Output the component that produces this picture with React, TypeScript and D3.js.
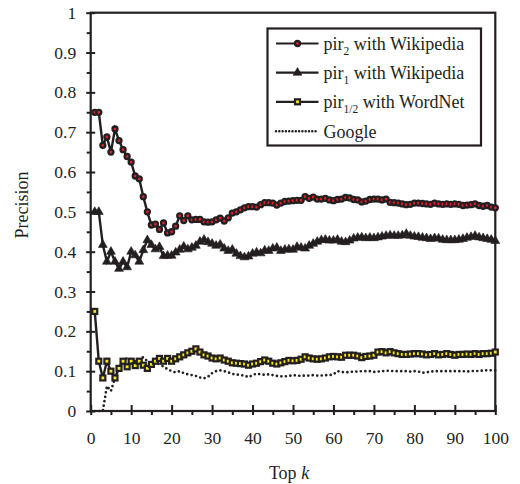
import React, { useEffect, useRef } from 'react';
import * as d3 from 'd3';

// top-k positions on the x axis
const topK = d3.range(1, 101);

const pir2Wiki = [
  0.75, 0.75, 0.667, 0.688, 0.65, 0.708, 0.679, 0.656, 0.639, 0.625,
  0.59, 0.583, 0.538, 0.5, 0.467, 0.469, 0.456, 0.472, 0.447, 0.45,
  0.464, 0.49, 0.478, 0.49, 0.48, 0.481, 0.481, 0.475, 0.474, 0.475,
  0.48, 0.484, 0.477, 0.485, 0.497, 0.5, 0.505, 0.51, 0.513, 0.513,
  0.512, 0.518, 0.523, 0.523, 0.522, 0.517, 0.522, 0.526, 0.527, 0.528,
  0.529, 0.529, 0.538, 0.534, 0.537, 0.532, 0.532, 0.534, 0.53, 0.528,
  0.531, 0.532, 0.536, 0.535, 0.531, 0.53, 0.525, 0.527, 0.531, 0.532,
  0.532, 0.53, 0.532, 0.524, 0.523, 0.522, 0.52, 0.518, 0.519, 0.522,
  0.522, 0.521, 0.52, 0.519, 0.522, 0.52, 0.519, 0.52, 0.519, 0.52,
  0.519, 0.516, 0.517, 0.518, 0.52, 0.516, 0.514, 0.516, 0.512, 0.51,
];

const pir1Wiki = [
  0.5, 0.5, 0.417, 0.375, 0.4, 0.375, 0.357, 0.375, 0.361, 0.4,
  0.391, 0.375, 0.404, 0.429, 0.417, 0.406, 0.412, 0.389, 0.39, 0.39,
  0.398, 0.405, 0.413, 0.406, 0.41, 0.415, 0.425, 0.43, 0.424, 0.42,
  0.415, 0.418, 0.408, 0.402, 0.405, 0.395, 0.389, 0.386, 0.388, 0.395,
  0.398, 0.396, 0.403, 0.402, 0.408, 0.41, 0.402, 0.405, 0.406, 0.405,
  0.412, 0.41, 0.408, 0.415, 0.42, 0.425, 0.429, 0.43, 0.428, 0.428,
  0.43, 0.425, 0.424, 0.428, 0.433, 0.435, 0.436, 0.434, 0.435, 0.434,
  0.436, 0.438, 0.44, 0.441, 0.44, 0.44, 0.441, 0.445, 0.44, 0.438,
  0.437, 0.435, 0.434, 0.432, 0.434, 0.433, 0.43, 0.429, 0.429, 0.429,
  0.43, 0.432, 0.435, 0.437, 0.44, 0.436, 0.434, 0.432, 0.43, 0.427,
];

const pirHalfWordNet = [
  0.25, 0.125, 0.083, 0.125, 0.1, 0.083, 0.107, 0.125, 0.111, 0.125,
  0.114, 0.125, 0.115, 0.107, 0.117, 0.125, 0.132, 0.125, 0.132, 0.125,
  0.131, 0.136, 0.141, 0.146, 0.15, 0.156, 0.148, 0.141, 0.138, 0.133,
  0.131, 0.133, 0.128, 0.125, 0.121, 0.12, 0.119, 0.118, 0.115, 0.118,
  0.12, 0.124, 0.128, 0.125, 0.12, 0.118, 0.121, 0.124, 0.127, 0.126,
  0.127, 0.13, 0.136, 0.133, 0.131, 0.13, 0.131, 0.133, 0.136, 0.137,
  0.136, 0.135, 0.14, 0.14, 0.14, 0.138, 0.134, 0.137, 0.138, 0.14,
  0.148, 0.149, 0.146, 0.149, 0.146, 0.144, 0.142, 0.142, 0.143, 0.144,
  0.144, 0.143, 0.141, 0.142, 0.144, 0.141, 0.142, 0.144, 0.142, 0.14,
  0.142, 0.142, 0.143, 0.142, 0.144, 0.142, 0.144, 0.144, 0.145, 0.148,
];

const google = [
  0, 0, 0, 0.0625, 0.05, 0.083, 0.107, 0.125, 0.133, 0.13,
  0.125, 0.13, 0.135, 0.125, 0.12, 0.12, 0.118, 0.111, 0.105, 0.1,
  0.097, 0.1, 0.095, 0.092, 0.09, 0.088, 0.084, 0.082, 0.086, 0.095,
  0.1, 0.102, 0.1, 0.097, 0.093, 0.092, 0.09, 0.089, 0.085, 0.09,
  0.094, 0.092, 0.091, 0.092, 0.09, 0.088, 0.087, 0.087, 0.088, 0.09,
  0.089, 0.088, 0.089, 0.089, 0.09, 0.089, 0.089, 0.09, 0.09, 0.092,
  0.1, 0.098, 0.097, 0.098, 0.099, 0.099, 0.1, 0.1, 0.1, 0.098,
  0.099, 0.1, 0.101, 0.101, 0.1, 0.1, 0.1, 0.1, 0.099, 0.1,
  0.099, 0.096, 0.097, 0.099, 0.1, 0.1, 0.1, 0.1, 0.1, 0.1,
  0.1, 0.1, 0.099, 0.1, 0.101, 0.1, 0.102, 0.102, 0.102, 0.102,
];

const xTicks = d3.range(0, 101, 10);
const yTicks = d3.range(0, 1.01, 0.1);

const INK = '#231f20';
const FONT = 'Liberation Serif, Times New Roman, serif';

function App() {
  const ref = useRef<SVGSVGElement>(null);

  useEffect(() => {
    const svg = d3.select(ref.current);
    svg.selectAll('*').remove();

    const left = 90.7, right = 495.3, top = 12.7, bottom = 411;
    const x = d3.scaleLinear().domain([0, 100]).range([left, right]);
    const y = d3.scaleLinear().domain([0, 1]).range([bottom, top]);

    // frame
    svg.append('rect')
      .attr('x', left).attr('y', top)
      .attr('width', right - left).attr('height', bottom - top)
      .attr('fill', 'none').attr('stroke', INK).attr('stroke-width', 2.2);

    const styleAxis = (g: any) => {
      g.select('.domain').remove();
      g.selectAll('line').attr('stroke', INK).attr('stroke-width', 2);
      g.selectAll('text').attr('fill', INK).attr('font-family', FONT).attr('font-size', 17.5);
    };

    // x axis: labelled outside ticks, major inside ticks, minor outside ticks
    svg.append('g').attr('transform', `translate(0,${bottom})`)
      .call(d3.axisBottom(x).tickValues(xTicks).tickSize(4).tickPadding(17)
        .tickFormat(d3.format('d')))
      .call(styleAxis);
    svg.append('g').attr('transform', `translate(0,${bottom})`)
      .call(d3.axisTop(x).tickValues(xTicks).tickSize(6).tickFormat(() => ''))
      .call(styleAxis);
    svg.append('g').attr('transform', `translate(0,${bottom})`)
      .call(d3.axisBottom(x).tickValues(d3.range(5, 100, 10)).tickSize(4).tickFormat(() => ''))
      .call(styleAxis);

    // y axis
    svg.append('g').attr('transform', `translate(${left},0)`)
      .call(d3.axisLeft(y).tickValues(yTicks).tickSize(4.5).tickPadding(10)
        .tickFormat((d: any) => (Math.abs(d) < 1e-9 ? '0' : Math.abs(d - 1) < 1e-9 ? '1' : d3.format('.1f')(d))))
      .call(styleAxis);
    svg.append('g').attr('transform', `translate(${left},0)`)
      .call(d3.axisRight(y).tickValues(yTicks).tickSize(4.5).tickFormat(() => ''))
      .call(styleAxis);
    svg.append('g').attr('transform', `translate(${left},0)`)
      .call(d3.axisLeft(y).tickValues(d3.range(0.05, 1, 0.1)).tickSize(4).tickFormat(() => ''))
      .call(styleAxis);

    // axis titles
    svg.append('text')
      .attr('transform', 'translate(28,205) rotate(-90)')
      .attr('text-anchor', 'middle')
      .attr('font-family', FONT).attr('font-size', 18).attr('fill', INK)
      .text('Precision');
    const xt = svg.append('text')
      .attr('x', 289).attr('y', 478.5)
      .attr('text-anchor', 'middle')
      .attr('font-family', FONT).attr('font-size', 18).attr('fill', INK);
    xt.append('tspan').text('Top ');
    xt.append('tspan').attr('font-style', 'italic').text('k');

    const line = d3.line<number>()
      .x((d, i) => x(topK[i]))
      .y(d => y(d));

    // Google (dotted)
    svg.append('path')
      .datum(google)
      .attr('d', line)
      .attr('fill', 'none')
      .attr('stroke', INK)
      .attr('stroke-width', 2.7)
      .attr('stroke-linecap', 'round')
      .attr('stroke-dasharray', '0 4.5');

    const drawMarker = (g: any, marker: string, cx: number, cy: number) => {
      if (marker === 'circle') {
        g.append('circle').attr('cx', cx).attr('cy', cy).attr('r', 2.5)
          .attr('fill', '#e8202a').attr('stroke', INK).attr('stroke-width', 2.3);
      } else if (marker === 'triangle') {
        g.append('path')
          .attr('transform', `translate(${cx},${cy})`)
          .attr('d', d3.symbol(d3.symbolTriangle, 34)())
          .attr('fill', INK).attr('stroke', INK).attr('stroke-width', 0.6);
      } else {
        g.append('rect').attr('x', cx - 2.5).attr('y', cy - 2.5)
          .attr('width', 5).attr('height', 5)
          .attr('fill', '#f7e717').attr('stroke', INK).attr('stroke-width', 2.2);
      }
    };

    const drawSeries = (data: number[], marker: string) => {
      svg.append('path')
        .datum(data)
        .attr('d', line)
        .attr('fill', 'none')
        .attr('stroke', INK)
        .attr('stroke-width', 2.4);
      const pts = svg.append('g');
      data.forEach((v, i) => drawMarker(pts, marker, x(topK[i]), y(v)));
    };

    drawSeries(pirHalfWordNet, 'square');
    drawSeries(pir1Wiki, 'triangle');
    drawSeries(pir2Wiki, 'circle');

    // legend
    const lg = svg.append('g');
    lg.append('rect')
      .attr('x', 267.5).attr('y', 28.5).attr('width', 213.5).attr('height', 117)
      .attr('fill', 'white').attr('stroke', INK).attr('stroke-width', 2.2);

    const legendItems = [
      { name: 'pir', sub: '2', rest: ' with Wikipedia', marker: 'circle' },
      { name: 'pir', sub: '1', rest: ' with Wikipedia', marker: 'triangle' },
      { name: 'pir', sub: '1/2', rest: ' with WordNet', marker: 'square' },
      { name: 'Google', sub: '', rest: '', marker: 'dot' },
    ];
    const rowY = [43.5, 72.7, 101.8, 131.3];
    legendItems.forEach((item, i) => {
      const ly = rowY[i];
      const ln = lg.append('line')
        .attr('x1', 276).attr('x2', 318.5).attr('y1', ly).attr('y2', ly)
        .attr('stroke', INK);
      if (item.marker === 'dot') {
        ln.attr('stroke-width', 2.5).attr('stroke-linecap', 'round').attr('stroke-dasharray', '0 3.3');
      } else {
        ln.attr('stroke-width', 2.2);
        drawMarker(lg, item.marker, 297.5, ly);
      }
      const t = lg.append('text')
        .attr('x', 323.5).attr('y', ly + 6.5)
        .attr('font-family', FONT).attr('font-size', 18).attr('fill', INK);
      t.append('tspan').text(item.name);
      if (item.sub) {
        t.append('tspan').attr('dy', 4.5).attr('font-size', 11.5).text(item.sub);
        t.append('tspan').attr('dy', -4.5).text(item.rest);
      }
    });
  }, []);

  return (
    <div style={{ position: 'absolute', left: 0, top: 0 }}>
      <svg ref={ref} width={520} height={484} style={{ display: 'block', background: 'white' }} />
    </div>
  );
}

export default App;
